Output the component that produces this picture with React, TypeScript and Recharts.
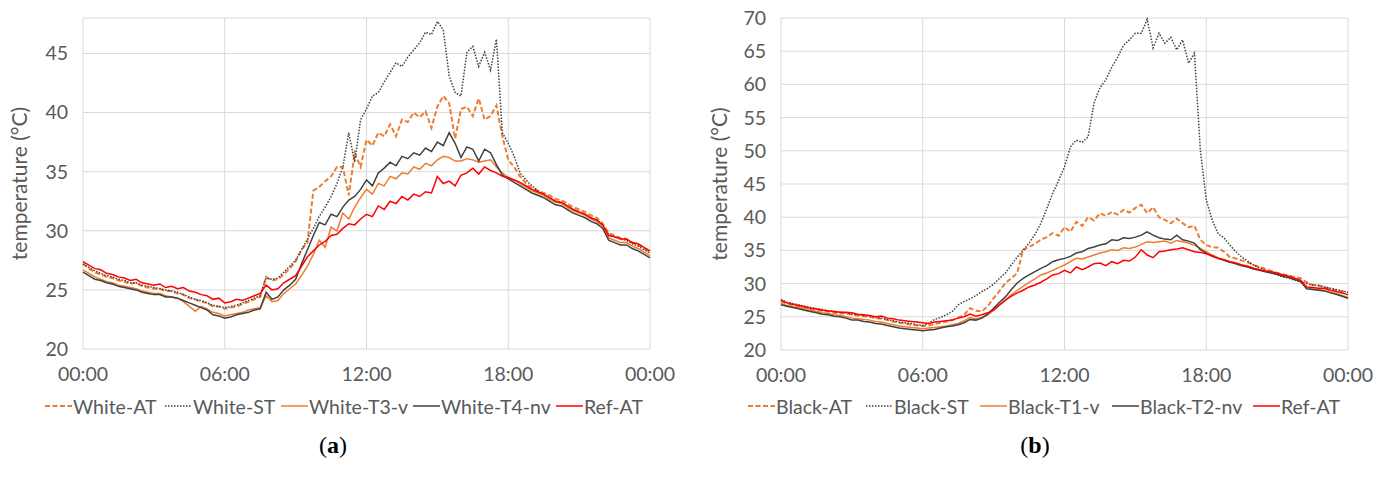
import { CartesianGrid, Line, LineChart, XAxis, YAxis } from "recharts";

// time axis: one reading every 15 minutes, 00:00 -> 24:00
const hours = Array.from({ length: 97 }, (_, i) => i * 0.25);
const timeTicks = [0, 6, 12, 18, 24];

// ---- panel (a): white roof ----
const whiteAT = [
  27.2, 26.8, 26.5, 26.3, 26.1, 26.0, 25.8, 25.7, 25.5, 25.6, 25.3, 25.2,
  25.1, 25.1, 24.9, 24.9, 24.7, 24.6, 24.3, 24.2, 24.0, 23.9, 23.6, 23.6,
  23.4, 23.5, 23.6, 23.8, 24.0, 24.2, 24.4, 26.1, 25.8, 25.9, 26.3, 26.8,
  27.4, 28.4, 29.0, 33.4, 33.7, 34.2, 34.6, 35.4, 35.4, 33.0, 36.6, 35.4,
  37.7, 37.2, 38.3, 38.0, 39.0, 38.0, 39.4, 39.2, 40.0, 39.6, 40.1, 38.7,
  40.5, 41.4, 40.8, 37.8, 40.3, 40.5, 39.7, 41.2, 39.4, 39.7, 40.6, 38.0,
  36.0, 35.4, 34.6, 34.0, 33.6, 33.4, 33.2, 33.0, 32.7, 32.6, 32.3, 32.0,
  31.8, 31.6, 31.3, 31.1, 30.6, 29.8, 29.6, 29.4, 29.3, 29.0, 28.8, 28.5,
  28.2,
];
const whiteST = [
  27.2, 26.9, 26.6, 26.4, 26.2, 26.1, 25.9, 25.8, 25.6, 25.6, 25.4, 25.3,
  25.2, 25.1, 25.0, 24.9, 24.8, 24.6, 24.4, 24.2, 24.1, 23.9, 23.7, 23.6,
  23.5, 23.6, 23.7, 23.9, 24.1, 24.3, 24.5, 26.0, 25.9, 26.0, 26.5, 27.0,
  27.5, 28.4, 29.3, 30.2, 31.2, 32.0, 32.9, 34.0, 35.4, 38.3, 35.8, 39.4,
  40.3, 41.4, 41.7, 42.6, 43.4, 44.2, 43.9, 44.7, 45.3, 45.9, 46.8, 46.6,
  47.7, 47.0, 43.1, 41.7, 41.4, 45.1, 45.6, 43.9, 45.1, 43.6, 46.2, 38.3,
  37.4, 36.3, 34.9, 34.3, 33.8, 33.4, 33.0, 32.7, 32.5, 32.4, 32.1, 31.8,
  31.6, 31.4, 31.1, 30.9, 30.5, 29.7, 29.5, 29.3, 29.2, 28.9, 28.7, 28.4,
  28.1,
];
const whiteT3v = [
  26.7, 26.4, 26.1, 25.9, 25.7, 25.6, 25.4, 25.3, 25.2, 25.1, 24.9, 24.8,
  24.7, 24.7, 24.5, 24.4, 24.3, 24.0, 23.6, 23.2, 23.6, 23.4, 23.1, 23.0,
  22.8, 22.9, 23.0, 23.1, 23.3, 23.4, 23.5, 24.5, 24.0, 24.1, 24.7, 25.1,
  25.5, 26.2, 27.0, 28.0, 29.2, 28.6, 30.3, 30.0, 31.5, 31.0, 32.0, 32.8,
  33.5, 33.1, 34.0, 33.8, 34.6, 34.4, 34.9, 34.8, 35.4, 35.2, 35.7, 35.5,
  36.0, 36.3, 36.2, 35.9, 35.9, 36.1, 36.0, 35.8, 35.9, 36.0, 35.4, 34.9,
  34.5, 34.3, 34.0, 33.7, 33.4, 33.2, 33.0, 32.7, 32.4, 32.3, 32.0, 31.7,
  31.5, 31.3, 31.0, 30.8, 30.4, 29.4, 29.2, 29.0, 29.0, 28.7, 28.5, 28.2,
  27.9,
];
const whiteT4nv = [
  26.5, 26.2, 25.9, 25.8, 25.6, 25.5, 25.3, 25.2, 25.1, 25.0, 24.8, 24.7,
  24.6, 24.6, 24.4, 24.4, 24.3, 24.1, 23.9, 23.7, 23.5, 23.3, 22.9, 22.8,
  22.6, 22.7, 22.9, 23.0, 23.1, 23.3, 23.4, 24.8, 24.2, 24.4, 25.0, 25.4,
  25.9, 27.2, 28.4, 29.6, 30.7, 30.5, 31.4, 31.2, 32.0, 32.6, 32.9, 33.5,
  34.3, 33.8, 34.9, 35.3, 35.8, 35.5, 36.3, 36.1, 36.6, 36.4, 37.0, 36.7,
  37.5, 37.2, 38.3, 37.4, 36.2, 37.1, 36.9, 35.9, 36.9, 36.6, 35.6, 34.7,
  34.4, 34.1, 33.8, 33.5, 33.2, 33.0, 32.8, 32.5, 32.2, 32.1, 31.8, 31.5,
  31.3, 31.1, 30.8, 30.6, 30.2, 29.2, 29.0, 28.8, 28.8, 28.5, 28.3, 28.0,
  27.7,
];
const refATa = [
  27.4, 27.1, 26.8, 26.7, 26.4, 26.3, 26.1, 26.0, 25.8, 25.9, 25.6, 25.5,
  25.4, 25.5, 25.2, 25.3, 25.1, 25.2, 24.9, 24.8, 24.6, 24.5, 24.2, 24.3,
  23.9, 24.0, 24.2, 24.1, 24.3, 24.5, 24.7, 25.4, 25.0, 25.1, 25.6, 25.9,
  26.2, 27.0, 27.8, 28.3, 28.8, 29.1, 29.6, 29.7, 30.2, 30.6, 30.5, 31.0,
  31.4, 31.2, 32.1, 31.8, 32.5, 32.3, 32.9, 32.6, 33.1, 32.9, 33.3, 33.2,
  34.6, 34.0, 34.2, 33.8, 34.7, 34.9, 35.3, 34.8, 35.4, 35.1, 34.9, 34.6,
  34.5, 34.3, 34.1, 33.8, 33.5, 33.3, 33.1, 32.8, 32.5, 32.4, 32.1, 31.8,
  31.6, 31.4, 31.1, 30.9, 30.5, 29.6, 29.5, 29.3, 29.3, 29.0, 28.9, 28.6,
  28.3,
];

// ---- panel (b): black roof ----
const blackAT = [
  27.3, 27.0, 26.7, 26.6, 26.4, 26.2, 26.0, 25.9, 25.8, 25.6, 25.5, 25.5,
  25.3, 25.2, 25.1, 25.0, 24.8, 24.7, 24.5, 24.3, 24.1, 24.0, 23.8, 23.7,
  23.6, 23.7, 23.9, 24.1, 24.3, 24.5, 24.9, 25.3, 26.3, 25.9, 25.8, 26.6,
  27.8, 28.9, 30.1, 30.8, 31.6, 35.1, 35.5, 36.0, 36.6, 37.0, 37.6, 37.2,
  38.5, 37.8, 39.3, 38.7, 40.0, 39.5, 40.6, 40.2, 40.8, 40.4, 41.1, 40.7,
  41.4, 41.9, 40.6, 41.5, 40.0, 39.6, 39.1, 39.8, 39.1, 38.5, 38.7, 36.6,
  35.8, 35.5, 35.4, 34.8, 34.0, 33.8, 33.5, 33.2, 32.8, 32.5, 32.2, 31.9,
  31.6, 31.4, 31.2, 31.0, 30.8, 30.2, 29.8, 29.7, 29.5, 29.2, 29.0, 28.8,
  28.6,
];
const blackST = [
  27.6, 27.2, 27.0, 26.8, 26.6, 26.4, 26.2, 26.1, 25.9, 25.8, 25.7, 25.6,
  25.4, 25.3, 25.2, 25.1, 24.9, 24.8, 24.6, 24.4, 24.2, 24.1, 24.0, 23.8,
  23.7, 24.0, 24.6, 24.9, 25.3, 25.8, 26.8, 27.3, 27.7, 28.2, 28.8, 29.3,
  29.9, 30.8, 31.6, 32.8, 34.0, 35.0, 36.1, 37.4, 39.1, 41.3, 43.6, 45.5,
  47.6, 50.6, 51.6, 51.3, 52.1, 57.2, 59.5, 60.7, 62.6, 64.1, 65.9, 66.7,
  67.7, 67.7, 69.8, 65.5, 67.7, 66.2, 67.1, 65.2, 66.7, 63.2, 64.7, 50.1,
  42.6, 39.6, 37.5, 36.9, 35.8, 34.8, 34.0, 33.4, 32.8, 32.4, 32.0, 31.6,
  31.3, 31.0, 30.8, 30.5, 30.2, 30.0, 29.8, 29.7, 29.5, 29.3, 29.1, 28.9,
  28.7,
];
const blackT1v = [
  27.0, 26.7, 26.5, 26.4, 26.2, 26.0, 25.8, 25.6, 25.5, 25.3, 25.2, 25.0,
  24.8, 24.7, 24.6, 24.5, 24.3, 24.2, 24.0, 23.8, 23.6, 23.5, 23.4, 23.3,
  23.2, 23.3, 23.4, 23.5, 23.6, 23.8, 24.0, 24.4, 24.9, 24.7, 24.9, 25.3,
  26.0, 26.8, 27.5, 28.3, 29.0, 29.6, 30.2, 30.7, 31.3, 31.6, 32.0, 32.4,
  32.8, 33.3, 33.8, 33.7, 34.0, 34.3, 34.6, 34.8, 35.1, 35.0, 35.4, 35.3,
  35.5, 35.9, 36.3, 36.2, 36.3, 36.4, 36.1, 36.5, 36.3, 36.1, 35.8, 35.3,
  34.8, 34.3, 33.9, 33.6, 33.3, 33.1, 32.8, 32.6, 32.3, 32.1, 31.9, 31.7,
  31.5, 31.2, 31.0, 30.7, 30.4, 29.3, 29.2, 29.1, 29.0, 28.7, 28.5, 28.2,
  27.9,
];
const blackT2nv = [
  26.8, 26.6, 26.4, 26.2, 26.0, 25.8, 25.6, 25.4, 25.3, 25.1, 25.0, 24.8,
  24.5, 24.5, 24.3, 24.2, 24.0, 23.9, 23.7, 23.5, 23.3, 23.2, 23.1, 23.0,
  22.9, 23.0, 23.1, 23.3, 23.5, 23.6, 23.8, 24.1, 24.6, 24.5, 24.8, 25.4,
  26.3, 27.2, 28.0, 29.1, 30.1, 30.8, 31.3, 31.8, 32.3, 32.7, 33.3, 33.6,
  33.8, 34.1, 34.6, 34.8, 35.3, 35.5, 35.8, 36.0, 36.6, 36.5, 36.9, 36.8,
  37.0, 37.3, 37.8, 37.3, 36.9, 36.7, 36.6, 37.3, 36.6, 36.4, 36.1, 35.1,
  34.6, 34.1, 33.8, 33.5, 33.2, 33.0, 32.7, 32.5, 32.2, 32.0, 31.8, 31.6,
  31.4, 31.1, 30.9, 30.6, 30.3, 29.2, 29.1, 29.0, 28.9, 28.6, 28.4, 28.1,
  27.8,
];
const refATb = [
  27.5, 27.1, 26.9, 26.7, 26.5, 26.3, 26.2, 26.0, 25.9, 25.8, 25.7, 25.7,
  25.6, 25.4, 25.3, 25.2, 25.0, 25.1, 24.8, 24.7, 24.5, 24.4, 24.3, 24.2,
  24.1, 24.0, 24.2, 24.3, 24.4, 24.5, 24.8, 25.0, 25.4, 25.1, 25.3, 25.6,
  26.0, 26.8, 27.5, 28.1, 28.6, 29.0, 29.5, 29.8, 30.2, 30.7, 31.3, 31.5,
  32.0, 31.6, 32.5, 32.1, 32.5, 33.0, 33.1, 32.7, 33.3, 33.0, 33.5, 33.4,
  34.0, 35.1, 34.3, 33.9, 34.8, 34.9, 35.1, 35.2, 35.4, 35.1, 34.8, 34.7,
  34.5, 34.2, 33.8, 33.6, 33.3, 33.1, 32.8, 32.6, 32.3, 32.1, 31.9, 31.8,
  31.6, 31.3, 31.1, 30.8, 30.5, 29.5, 29.4, 29.3, 29.3, 29.0, 28.8, 28.6,
  28.3,
];

const ORANGE = "#ED7D31";
const DARK = "#404040";
const RED = "#FF0000";
const GRID = "#D9D9D9";
const TEXT = "#595959";
const FONT = "Lato, 'Noto Sans', sans-serif";

type Series = { key: string; name: string; data: number[]; color: string; width: number; dash?: string };

const panelA: Series[] = [
  { key: "wat", name: "White-AT", data: whiteAT, color: ORANGE, width: 2, dash: "5 2.5" },
  { key: "wst", name: "White-ST", data: whiteST, color: DARK, width: 1.5, dash: "1.5 1.5" },
  { key: "wt3", name: "White-T3-v", data: whiteT3v, color: ORANGE, width: 1.5 },
  { key: "wt4", name: "White-T4-nv", data: whiteT4nv, color: DARK, width: 1.5 },
  { key: "ref", name: "Ref-AT", data: refATa, color: RED, width: 1.5 },
];
const panelB: Series[] = [
  { key: "bat", name: "Black-AT", data: blackAT, color: ORANGE, width: 2, dash: "5 2.5" },
  { key: "bst", name: "Black-ST", data: blackST, color: DARK, width: 1.5, dash: "1.5 1.5" },
  { key: "bt1", name: "Black-T1-v", data: blackT1v, color: ORANGE, width: 1.5 },
  { key: "bt2", name: "Black-T2-nv", data: blackT2nv, color: DARK, width: 1.5 },
  { key: "ref", name: "Ref-AT", data: refATb, color: RED, width: 1.5 },
];

const buildRows = (series: Series[]) =>
  hours.map((h, i) => {
    const row: Record<string, number> = { h };
    series.forEach((s) => (row[s.key] = s.data[i]));
    return row;
  });

const fmtTime = (v: number) => `${String(v % 24).padStart(2, "0")}:00`;

const YTitle = (props: any) => {
  const vb = props.viewBox || { y: 0, height: 0 };
  const cx = 18;
  const cy = vb.y + vb.height / 2;
  return (
    <text
      x={cx}
      y={cy}
      transform={`rotate(-90 ${cx} ${cy})`}
      textAnchor="middle"
      dominantBaseline="central"
      fill={TEXT}
      fontSize={21}
      fontFamily={FONT}
    >
      temperature (°C)
    </text>
  );
};

const LegendRow = ({ series, starts }: { series: Series[]; starts: number[] }) => (
  <div style={{ position: "absolute", left: 0, top: 393, height: 26, width: 680 }}>
    {series.map((s, i) => (
      <div
        key={s.key}
        style={{ position: "absolute", left: starts[i], top: 0, display: "flex", alignItems: "center", height: 26 }}
      >
        <svg width={27} height={10}>
          <line x1={0} y1={5} x2={27} y2={5} stroke={s.color} strokeWidth={s.width} strokeDasharray={s.dash} />
        </svg>
        <span style={{ marginLeft: 1, color: TEXT, fontSize: 19.5, fontFamily: FONT, whiteSpace: "nowrap" }}>
          {s.name}
        </span>
      </div>
    ))}
  </div>
);

type PanelProps = {
  series: Series[];
  left: number;
  yTicks: number[];
  yMax: number;
  axisWidth: number;
  rightMargin: number;
  bottomMargin: number;
  legendStarts: number[];
  caption: string;
  captionX: number;
};

const Panel = (p: PanelProps) => (
  <div style={{ position: "absolute", left: p.left, top: 0, width: 680, height: 481 }}>
    <LineChart
      width={680}
      height={481}
      data={buildRows(p.series)}
      margin={{ top: 18, right: p.rightMargin, bottom: p.bottomMargin, left: 0 }}
    >
      <CartesianGrid stroke={GRID} strokeWidth={1} />
      <XAxis
        dataKey="h"
        type="number"
        domain={[0, 24]}
        ticks={timeTicks}
        tickFormatter={fmtTime}
        axisLine={false}
        tickLine={false}
        tickSize={0}
        tickMargin={18}
        height={30}
        tick={{ fill: TEXT, fontSize: 19.5, fontFamily: FONT }}
      />
      <YAxis
        type="number"
        domain={[20, p.yMax]}
        ticks={p.yTicks}
        axisLine={false}
        tickLine={false}
        tickSize={0}
        tickMargin={15}
        width={p.axisWidth}
        tick={{ fill: TEXT, fontSize: 19.5, fontFamily: FONT }}
        label={<YTitle />}
      />
      {p.series.map((s) => (
        <Line
          key={s.key}
          dataKey={s.key}
          name={s.name}
          type="linear"
          stroke={s.color}
          strokeWidth={s.width}
          strokeDasharray={s.dash}
          dot={false}
          activeDot={false}
          isAnimationActive={false}
        />
      ))}
    </LineChart>
    <LegendRow series={p.series} starts={p.legendStarts} />
    <div
      style={{
        position: "absolute",
        left: p.captionX,
        top: 432,
        transform: "translateX(-50%)",
        fontFamily: "'Liberation Serif', serif",
        fontSize: 24,
        color: "#000",
      }}
    >
      (<b>{p.caption}</b>)
    </div>
  </div>
);

export default function App() {
  return (
    <div style={{ position: "absolute", left: 0, top: 0, width: 1386, height: 481, background: "#fff" }}>
      <Panel
        series={panelA}
        left={0}
        yTicks={[20, 25, 30, 35, 40, 45]}
        yMax={48}
        axisWidth={83}
        rightMargin={30}
        bottomMargin={102}
        legendStarts={[45, 165, 281, 413, 556]}
        caption="a"
        captionX={333}
      />
      <Panel
        series={panelB}
        left={700}
        yTicks={[20, 25, 30, 35, 40, 45, 50, 55, 60, 65, 70]}
        yMax={70}
        axisWidth={81}
        rightMargin={32}
        bottomMargin={101}
        legendStarts={[48, 166, 280, 412, 553]}
        caption="b"
        captionX={335}
      />
    </div>
  );
}
